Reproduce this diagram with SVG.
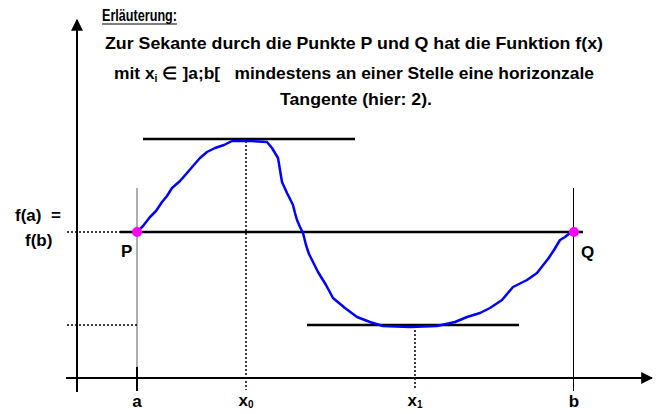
<svg xmlns="http://www.w3.org/2000/svg" width="661" height="414" viewBox="0 0 661 414">
<style>
.t{font-family:"Liberation Sans",Arial,sans-serif;fill:#000;font-size:17px;font-weight:bold}
.ax{stroke:#000;stroke-width:2;fill:none}
.tan{stroke:#000;stroke-width:2.5;fill:none}
.dot{stroke:#000;stroke-width:1.5;stroke-dasharray:2 2;fill:none}
.thin{stroke:#000;stroke-width:1;fill:none}
</style>
<defs>
<marker id="ah" viewBox="0 0 10 10" refX="9" refY="5" markerWidth="12" markerHeight="12" markerUnits="userSpaceOnUse" orient="auto">
<path d="M0,0 L10,5 L0,10 Z" fill="#000"/>
</marker>
</defs>
<rect width="661" height="414" fill="#fff"/>
<g id="connectors">
<line class="ax" x1="77" y1="392" x2="77" y2="20" marker-end="url(#ah)"/>
<line class="ax" x1="66" y1="378" x2="652" y2="378" marker-end="url(#ah)"/>
<line x1="137" y1="188" x2="137" y2="367" stroke="#777" stroke-width="1.2"/>
<line class="ax" x1="137" y1="367" x2="137" y2="391"/>
<line class="thin" x1="573.5" y1="188" x2="573.5" y2="391"/>
<line class="tan" x1="120" y1="232" x2="583" y2="232"/>
<line class="tan" x1="143" y1="139" x2="355" y2="139"/>
<line class="tan" x1="307" y1="325" x2="519" y2="325"/>
<line class="dot" x1="67" y1="232" x2="120" y2="232"/>
<line class="dot" x1="67" y1="325" x2="137" y2="325"/>
<line class="dot" x1="246" y1="141" x2="246" y2="390"/>
<line class="dot" x1="415" y1="326" x2="415" y2="390"/>
<path d="M137,232 L143,226 L150,217 L156,211 L162,202 L167,196 L172,188 L180,181 L187,173 L193,166 L200,158 L207,152 L215,148 L224,145 L232,141 L250,141 L267,142 L272,148 L278,158 L280,170 L282,182 L287,193 L293,205 L295,213 L297,220 L300,227 L303,233 L306,245 L309,254 L313,262 L318,272 L326,285 L333,298 L345,308 L357,317 L370,322 L383,326 L410,327 L437,326 L455,322 L467,317 L480,313 L490,308 L502,300 L513,287 L527,280 L537,273 L544,264 L548,259 L554,250 L560,240 L565,237 L570,233 L574,232" fill="none" stroke="#0000ff" stroke-width="2.5" stroke-linejoin="round"/>
</g>
<g id="P"><circle cx="137" cy="232" r="5" fill="#ff00ff"/><text class="t" x="121" y="257">P</text></g>
<g id="Q"><circle cx="574" cy="232" r="5" fill="#ff00ff"/><text class="t" x="581" y="258">Q</text></g>
<g id="ylabels">
<text class="t" x="15" y="221">f(a)&#160; =</text>
<text class="t" x="25" y="246">f(b)</text>
</g>
<g id="xlabels">
<text class="t" x="137" y="407" text-anchor="middle">a</text>
<text class="t" x="246" y="406" text-anchor="middle">x<tspan font-size="10" dy="2">0</tspan></text>
<text class="t" x="415" y="406" text-anchor="middle">x<tspan font-size="10" dy="2">1</tspan></text>
<text class="t" x="574" y="407" text-anchor="middle">b</text>
</g>
<g id="caption">
<text class="t" x="102" y="21" font-size="12" font-weight="normal" textLength="75" lengthAdjust="spacingAndGlyphs">Erläuterung:</text>
<line x1="102" y1="24" x2="177" y2="24" stroke="#000" stroke-width="1"/>
<text class="t" x="105" y="49" textLength="498" lengthAdjust="spacingAndGlyphs">Zur Sekante durch die Punkte P und Q hat die Funktion f(x)</text>
<text class="t" x="114" y="79" textLength="480" lengthAdjust="spacingAndGlyphs">mit x<tspan font-size="10" dy="3">i</tspan><tspan dy="-3"> ∈ ]a;b[&#160;&#160; mindestens an einer Stelle eine horizonzale</tspan></text>
<text class="t" x="280" y="105" textLength="152" lengthAdjust="spacingAndGlyphs">Tangente (hier: 2).</text>
</g>
</svg>
